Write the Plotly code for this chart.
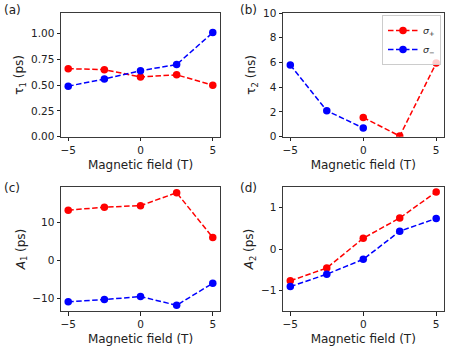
import plotly.graph_objects as go
from plotly.subplots import make_subplots

field = [-5, -2.5, 0, 2.5, 5]

tau1_plus = [0.66, 0.65, 0.58, 0.60, 0.50]
tau1_minus = [0.49, 0.56, 0.64, 0.70, 1.01]

tau2_plus_x = [0, 2.5, 5]
tau2_plus = [1.55, 0.05, 5.95]
tau2_minus_x = [-5, -2.5, 0]
tau2_minus = [5.8, 2.1, 0.7]

A1_plus = [13.2, 14.0, 14.4, 17.8, 6.0]
A1_minus = [-10.9, -10.3, -9.5, -11.8, -6.0]

A2_plus = [-0.77, -0.46, 0.26, 0.75, 1.38]
A2_minus = [-0.91, -0.61, -0.25, 0.43, 0.74]

panel_labels = ["(a)", "(b)", "(c)", "(d)"]
y_titles = ["τ<sub>1</sub> (ps)", "τ<sub>2</sub> (ns)", "<i>A</i><sub>1</sub> (ps)", "<i>A</i><sub>2</sub> (ps)"]
x_title = "Magnetic field (T)"
legend_names = ["<i>σ</i><sub>+</sub>", "<i>σ</i><sub>−</sub>"]

RED = "#ff0000"
BLUE = "#0000ff"
FONT = "DejaVu Sans"
W, H = 452, 356

fig = make_subplots(rows=2, cols=2)

def add(x, y, color, row, col, name=None, show=False):
    fig.add_trace(go.Scatter(
        x=x, y=y, mode="lines+markers",
        line=dict(color=color, width=1.5, dash="5.5px,2.5px"),
        marker=dict(color=color, size=7.5),
        name=name, showlegend=show, legendgroup=name,
    ), row=row, col=col)

add(field, tau1_plus, RED, 1, 1)
add(field, tau1_minus, BLUE, 1, 1)
add(tau2_plus_x, tau2_plus, RED, 1, 2, legend_names[0], True)
add(tau2_minus_x, tau2_minus, BLUE, 1, 2, legend_names[1], True)
add(field, A1_plus, RED, 2, 1)
add(field, A1_minus, BLUE, 2, 1)
add(field, A2_plus, RED, 2, 2)
add(field, A2_minus, BLUE, 2, 2)

xd = [[61 / W, 220 / W], [283 / W, 443.5 / W]]
yd = [[1 - 136.7 / H, 1 - 13 / H], [1 - 311 / H, 1 - 187 / H]]
yranges = [[0, 1.2], [0, 10], [-13.3, 19.3], [-1.5, 1.5]]
ytick = [dict(dtick=0.25, tick0=0, tickformat=".2f"), dict(dtick=2, tick0=0),
         dict(dtick=10, tick0=0), dict(dtick=1, tick0=0)]

axis_common = dict(
    showgrid=False, zeroline=False, showline=True, mirror=True, automargin=False,
    linecolor="#3a3a3a", linewidth=1, ticks="outside", ticklen=3.5,
    tickwidth=1, tickcolor="#222", tickfont=dict(family=FONT, size=10.5, color="#222"),
)

for i in range(4):
    r, c = divmod(i, 2)
    suffix = "" if i == 0 else str(i + 1)
    fig.layout["xaxis" + suffix].update(
        domain=xd[c], range=[-5.5, 5.5], tickvals=[-5, 0, 5],
        title=dict(text=x_title, font=dict(family=FONT, size=12, color="#222"), standoff=5),
        **axis_common)
    fig.layout["yaxis" + suffix].update(
        domain=yd[r], range=yranges[i],
        title=dict(text=y_titles[i], font=dict(family=FONT, size=12, color="#222"), standoff=4),
        **ytick[i], **axis_common)

lab_pos = [(2, 10), (238, 10), (2, 188), (238, 188)]
for lab, (px, py) in zip(panel_labels, lab_pos):
    fig.add_annotation(text=lab, xref="paper", yref="paper", x=px / W, y=1 - py / H,
                       xanchor="left", yanchor="middle", showarrow=False,
                       font=dict(family=FONT, size=12, color="#222"))

fig.update_layout(
    width=W, height=H, margin=dict(l=0, r=0, t=0, b=0, pad=0), autosize=False,
    paper_bgcolor="white", plot_bgcolor="white",
    font=dict(family=FONT, size=10.5, color="#222"),
    legend=dict(x=441 / W, y=1 - 15 / H, xanchor="right", yanchor="top",
                bgcolor="rgba(255,255,255,0.8)", bordercolor="#cccccc", borderwidth=1,
                font=dict(family=FONT, size=9.5), itemwidth=30, tracegroupgap=0),
)

fig.write_html("out.html",
               post_script="document.body.style.margin='0';document.body.style.overflow='hidden';",
               config={"responsive": False, "displayModeBar": False})
